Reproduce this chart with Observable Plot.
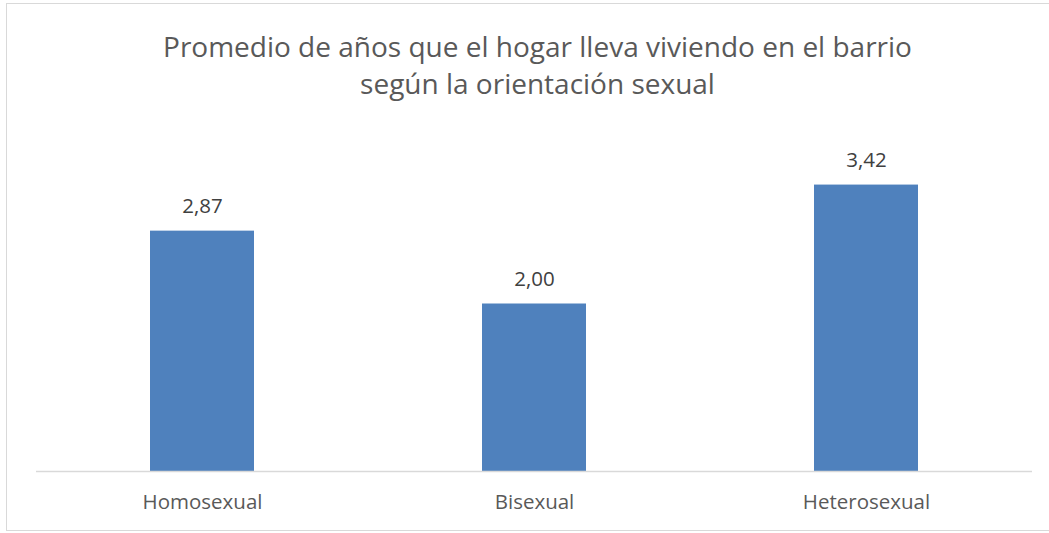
<!DOCTYPE html>
<html>
<head>
<meta charset="utf-8">
<script src="https://cdn.jsdelivr.net/npm/d3@7"></script>
<script src="https://cdn.jsdelivr.net/npm/@observablehq/plot@0.6"></script>
<style>
  html, body { margin: 0; padding: 0; background: #fff; overflow: hidden; }
  #wrap { position: relative; width: 1049px; height: 533px; overflow: hidden; font-family: "Open Sans", sans-serif; }
  #frame { position: absolute; left: 6px; top: 3px; width: 1060px; height: 528px; border: 1px solid #d9d9d9; box-sizing: border-box; }
  #title { position: absolute; left: 0; top: 28px; width: 1075px; text-align: center; font-size: 28px; line-height: 37px; color: #595959; }
  #chart { position: absolute; left: 0; top: 0; }
</style>
</head>
<body>
<div id="wrap">
  <div id="frame"></div>
  <div id="chart"></div>
  <div id="title"></div>
</div>
<script>
const titleLines = ["Promedio de años que el hogar lleva viviendo en el barrio", "según la orientación sexual"];
const categories = ["Homosexual", "Bisexual", "Heterosexual"];
const values = [2.87, 2.00, 3.42];
const valueLabels = ["2,87", "2,00", "3,42"];

document.getElementById("title").innerHTML = titleLines.map(t => `<div>${t}</div>`).join("");

const data = categories.map((c, i) => ({category: c, value: values[i], label: valueLabels[i]}));

const chart = Plot.plot({
  width: 1049,
  height: 533,
  marginLeft: 36,
  marginRight: 17,
  marginTop: 136,
  marginBottom: 62,
  style: {fontFamily: "Open Sans, sans-serif", background: "transparent"},
  x: {domain: categories, paddingInner: 0.687, paddingOuter: 0.3435, label: null},
  y: {domain: [0, 4], axis: null},
  marks: [
    Plot.barY(data, {x: "category", y: "value", fill: "#4f81bd"}),
    Plot.ruleY([0], {stroke: "#d9d9d9", strokeWidth: 1.3}),
    Plot.text(data, {x: "category", y: "value", text: "label", dy: -25, fontSize: 20.5, fill: "#404040"}),
    Plot.axisX({tickSize: 0, tickPadding: 23, fontSize: 20.5, color: "#595959", label: null})
  ]
});
document.getElementById("chart").appendChild(chart);
</script>
</body>
</html>
